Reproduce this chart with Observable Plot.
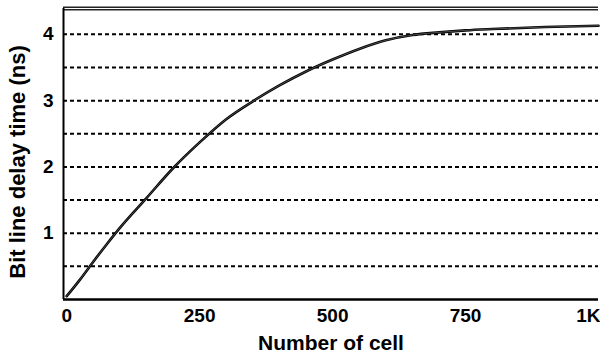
<!DOCTYPE html>
<html>
<head>
<meta charset="utf-8">
<script src="https://cdn.jsdelivr.net/npm/d3@7"></script>
<script src="https://cdn.jsdelivr.net/npm/@observablehq/plot@0.6"></script>
<style>
  html, body { margin: 0; padding: 0; background: white; }
</style>
</head>
<body>
<div id="chart"></div>
<script>
// Data
const cells = [0, 25, 50, 75, 100, 150, 200, 250, 300, 350, 400, 450, 500, 550, 600, 650, 700, 750, 800, 900, 1000];
const delay = [0.05, 0.30, 0.57, 0.83, 1.08, 1.53, 1.98, 2.37, 2.72, 2.99, 3.23, 3.44, 3.62, 3.78, 3.91, 3.99, 4.03, 4.06, 4.08, 4.11, 4.13];
const gridY = [0.5, 1, 1.5, 2, 2.5, 3, 3.5, 4];
const yTicks = [1, 2, 3, 4];
const xTicks = [0, 250, 500, 750];
const xLastTick = [1000];
const xLastLabel = "1K";
const xDomain = [-6, 1000];
const yDomain = [0, 4.39];
const xLabel = "Number of cell";
const yLabel = "Bit line delay time (ns)";

const data = cells.map((c, i) => ({cells: c, delay: delay[i]}));

const chart = Plot.plot({
  width: 600,
  height: 356,
  marginLeft: 63,
  marginRight: 2,
  marginTop: 8,
  marginBottom: 57,
  style: {
    fontFamily: "'Liberation Sans', Arial, sans-serif",
    fontWeight: "bold",
    fontSize: "19px",
    color: "black",
    background: "white"
  },
  x: {domain: xDomain},
  y: {domain: yDomain},
  marks: [
    Plot.ruleY(gridY, {stroke: "black", strokeWidth: 2, strokeDasharray: "4,3"}),
    Plot.line(data, {x: "cells", y: "delay", stroke: "black", strokeWidth: 2.6, curve: "monotone-x"}),
    Plot.line(data, {x: "cells", y: "delay", stroke: "white", strokeWidth: 0.5, strokeOpacity: 0.6, curve: "monotone-x"}),
    Plot.ruleY([yDomain[1]], {stroke: "#222", strokeWidth: 4}),
    Plot.ruleY([yDomain[1]], {stroke: "white", strokeWidth: 1.2}),
    Plot.ruleY([0], {stroke: "black", strokeWidth: 2.5}),
    Plot.ruleX([xDomain[0]], {stroke: "black", strokeWidth: 2}),
    Plot.axisY(yTicks, {tickSize: 0, tickPadding: 10, label: null, fontSize: 19, tickFormat: d => String(d)}),
    Plot.axisX(xTicks, {tickSize: 0, tickPadding: 9, label: null, fontSize: 19, tickFormat: d => String(d)}),
    Plot.axisX(xLastTick, {tickSize: 0, tickPadding: 9, label: null, fontSize: 19, tickFormat: () => xLastLabel, textAnchor: "end", dx: 2}),
    Plot.text([xLabel], {text: d => d, frameAnchor: "bottom", lineAnchor: "middle", dy: 44, fontSize: 21, fontWeight: "bold"}),
    Plot.text([yLabel], {text: d => d, frameAnchor: "left", textAnchor: "middle", rotate: -90, dx: -46, dy: 8, fontSize: 22, fontWeight: "bold"})
  ]
});
document.getElementById("chart").appendChild(chart);
</script>
</body>
</html>
